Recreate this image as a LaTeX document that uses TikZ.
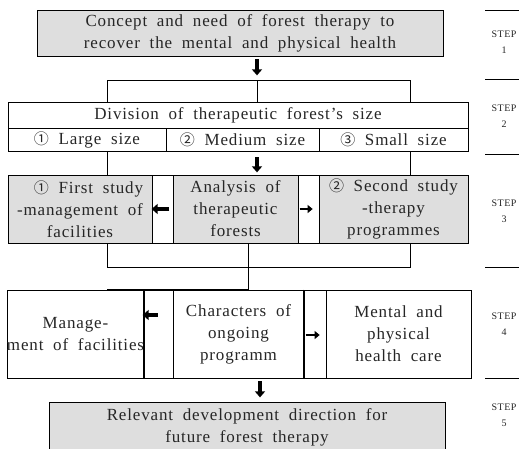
\documentclass[tikz,border=0pt]{standalone}
\usepackage{fontspec}
\setmainfont[WordSpace=1.9, LetterSpace=5]{Liberation Serif}
\newfontfamily\circfont{Noto Sans CJK KR}
\usetikzlibrary{arrows.meta}

\newcommand{\circnum}[1]{{\circfont\fontsize{15}{22}\selectfont #1}}
\definecolor{boxgray}{RGB}{222,222,222}
\tikzset{
	cell/.style={draw, inner sep=0pt, align=center, text=black!85, font=\fontsize{17}{22}\selectfont},
	grey/.style={cell, fill=boxgray},
	blockarrow/.style={line width=3.6pt, -{Triangle[width=10pt,length=6pt]}},
	smallarrow/.style={line width=2.8pt, -{Triangle[width=8pt,length=5pt]}},
	steplabel/.style={align=center, text=black!85, font=\fontsize{10}{16}\selectfont, inner sep=0pt},
}

\begin{document}
\begin{tikzpicture}[x=1pt, y=-1pt, line width=0.7pt]
	\useasboundingbox (0,0) rectangle (519,448);
	% step 1
	\node[grey, minimum width=406, minimum height=46] (concept) at (240,33)
		{Concept and need of forest therapy to\\recover the mental and physical health};
	% step 2
	\node[cell, minimum width=460, minimum height=26] (division) at (238,115)
		{Division of therapeutic forest's size};
	\node[cell, minimum width=158, minimum height=23] (large) at (87,139.5) {\circnum{①} Large size};
	\node[cell, minimum width=153, minimum height=23] (medium) at (242.5,139.5) {\circnum{②} Medium size};
	\node[cell, minimum width=149, minimum height=23] (small) at (393.5,139.5) {\circnum{③} Small size};
	% step 3
	\node[grey, minimum width=144, minimum height=68] (first) at (80,209)
		{\hspace*{1em}\circnum{①} First study\\-management of\\facilities};
	\node[cell, minimum width=21, minimum height=68] (gapa) at (162.5,209) {};
	\node[grey, minimum width=125, minimum height=68] (analysis) at (235.5,209)
		{Analysis of\\therapeutic\\forests};
	\node[cell, minimum width=21, minimum height=68] (gapb) at (308.5,209) {};
	\node[grey, minimum width=149, minimum height=68] (second) at (393.5,209)
		{\circnum{②} Second study\\-therapy\\programmes};
	% step 4
	\node[cell, minimum width=135, minimum height=88] (manage) at (75.5,334)
		{Manage-\\ment of facilities};
	\node[cell, minimum width=30, minimum height=88] (gapc) at (158,334) {};
	\node[cell, minimum width=131, minimum height=88] (characters) at (238.5,334)
		{Characters of\\ongoing\\programm};
	\node[cell, minimum width=22, minimum height=88] (gapd) at (315,334) {};
	\node[cell, minimum width=145, minimum height=88] (mental) at (398.5,334)
		{Mental and\\physical\\health care};
	\draw[line width=1.4pt] (gapd.north west) -- (gapd.south west);
	% step 5
	\node[grey, minimum width=396, minimum height=50] (relevant) at (247,427)
		{Relevant development direction for\\future forest therapy};

	% connectors
	\coordinate (ta) at (107,80);
	\coordinate (tm) at (257,80);
	\coordinate (tb) at (410,80);
	\coordinate (ba) at (107,267);
	\coordinate (bb) at (410,267);
	\coordinate (bm) at (248,267);
	\coordinate (am) at (260,0);
	\draw[blockarrow] ([yshift=-3pt]concept.south -| tm) -- ++(0,16);
	\draw (ta) -- (tb);
	\draw (ta) -- (ta |- division.north);
	\draw (tb) -- (tb |- division.north);
	\draw (tm) -- (tm |- division.north);
	\draw (large.south -| ta) -- (ta |- first.north);
	\draw (small.south -| tb) -- (tb |- second.north);
	\draw[blockarrow] ([yshift=-6pt]medium.south -| tm) -- ++(0,15);
	\draw[blockarrow] ([xshift=-4pt]gapa.east) -- (gapa.west);
	\draw[smallarrow] ([xshift=2pt]gapb.west) -- ++(13,0);
	\draw (first.south -| ba) -- (ba) -- (bb) -- (second.south -| bb);
	\draw (analysis.south -| bm) -- (bm |- manage.north);
	\draw[line width=1.4pt] (bm |- manage.north) -- (manage.north -| ba);
	\draw[blockarrow] ([xshift=15pt,yshift=19pt]gapc.west) -- ([yshift=19pt]gapc.west);
	\draw[smallarrow] ([xshift=2pt,yshift=-1pt]gapd.west) -- ++(14,0);
	\draw[blockarrow] ([yshift=-3pt]characters.south -| am) -- ++(0,16);

	% step labels
	\foreach \ly in {10,79,154,267,378}
		\draw[line width=0.6pt] (485,\ly) -- (519,\ly);
	\foreach \n/\cy in {1/42, 2/116, 3/211, 4/324, 5/415}
		\node[steplabel] (step\n) at (504,\cy) {STEP\\\n};
\end{tikzpicture}
\end{document}
